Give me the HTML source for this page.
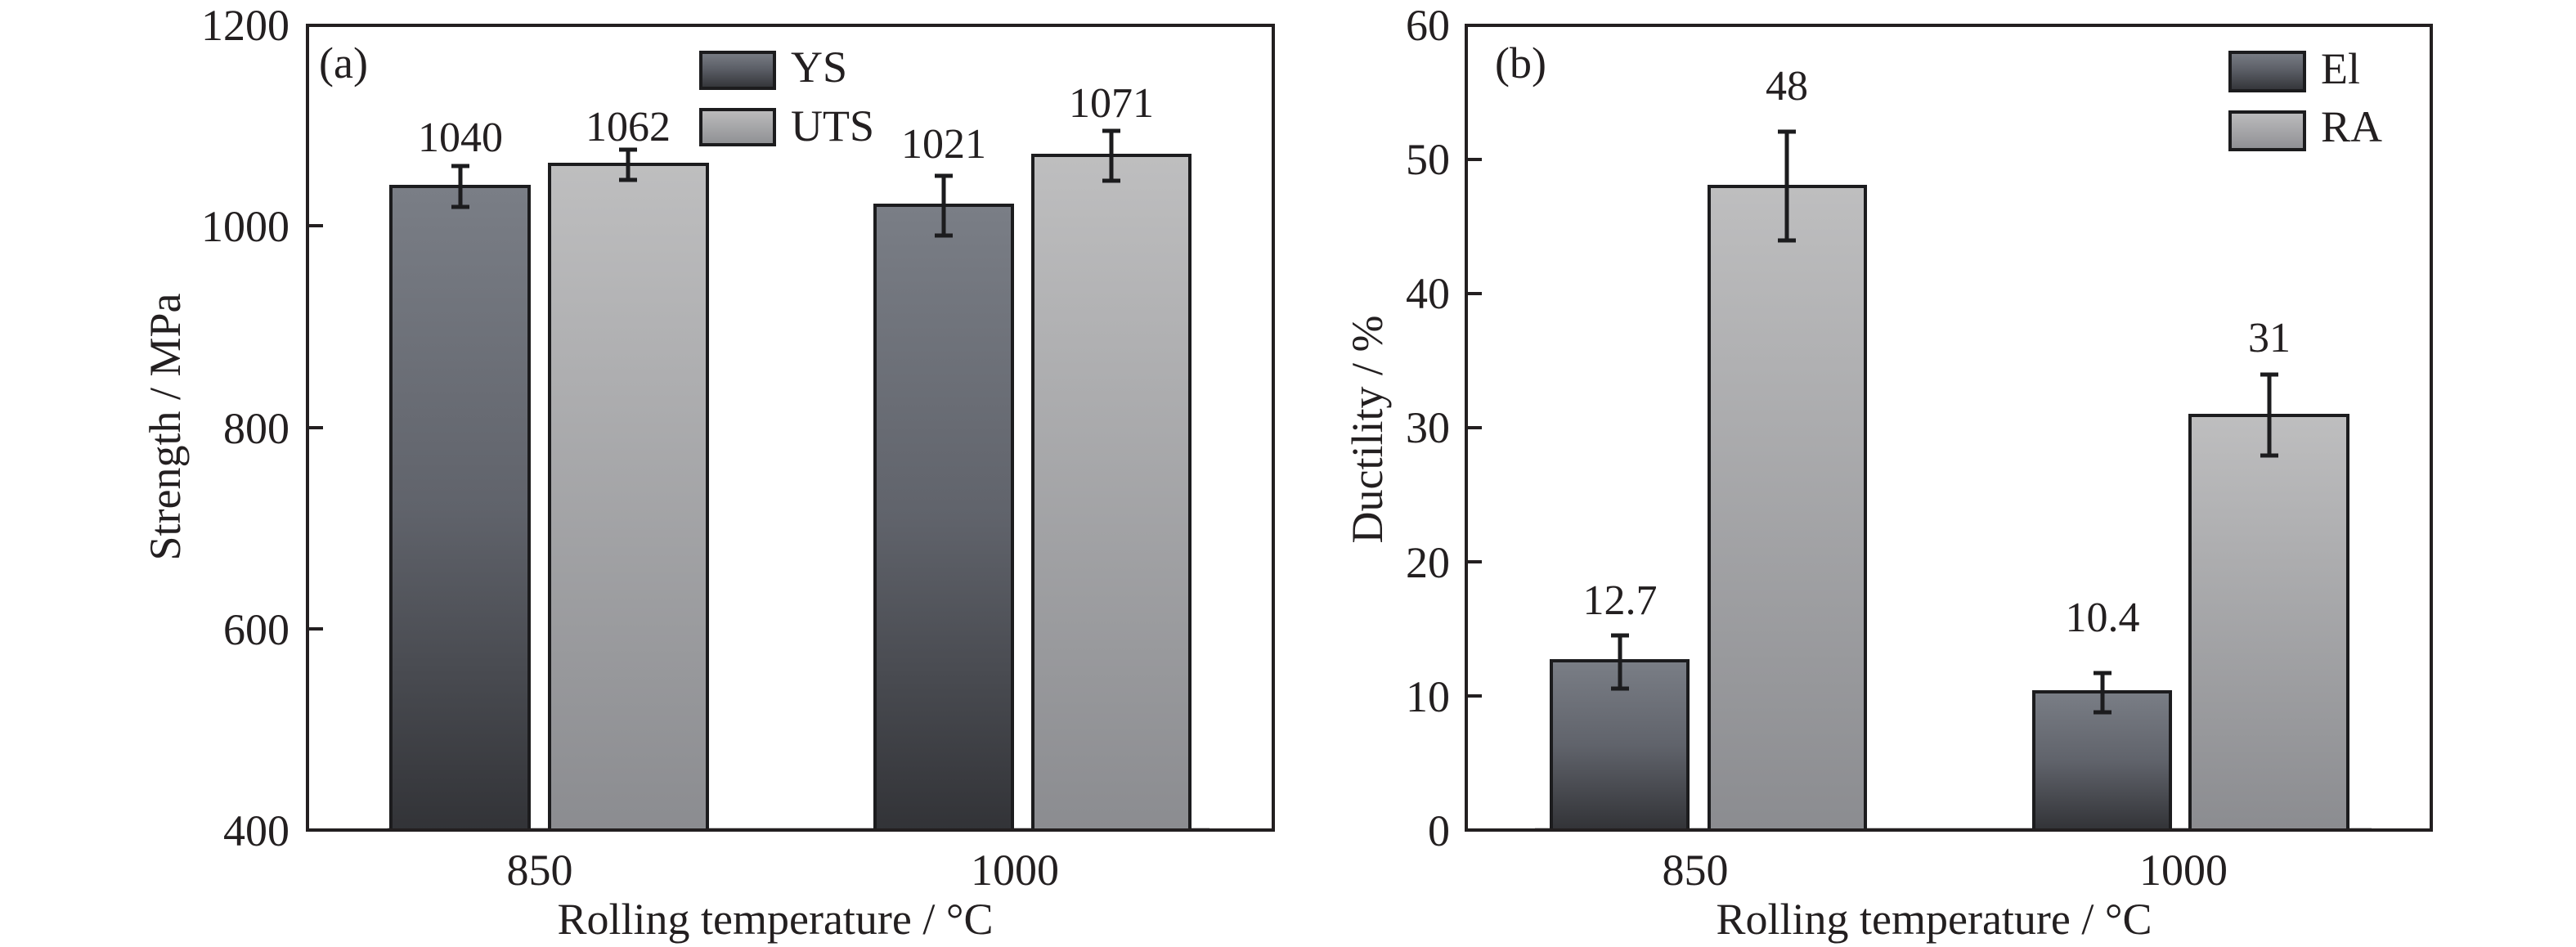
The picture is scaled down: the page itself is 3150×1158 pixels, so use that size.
<!DOCTYPE html>
<html><head><meta charset="utf-8"><style>
html,body{margin:0;padding:0;background:#fff;}
svg{display:block;}
text{font-family:"Liberation Serif",serif;fill:#231f20;}
</style></head><body>
<svg width="3150" height="1158" viewBox="0 0 3150 1158" xmlns="http://www.w3.org/2000/svg">
<defs>
<linearGradient id="dk" x1="0" y1="0" x2="0" y2="1">
<stop offset="0" stop-color="#7a7e86"/><stop offset="0.5" stop-color="#60636b"/><stop offset="1" stop-color="#323337"/>
</linearGradient>
<linearGradient id="lt" x1="0" y1="0" x2="0" y2="1">
<stop offset="0" stop-color="#bebebf"/><stop offset="1" stop-color="#8b8c90"/>
</linearGradient>
<linearGradient id="dkb" x1="0" y1="0" x2="0" y2="1">
<stop offset="0" stop-color="#7a7e86"/><stop offset="0.45" stop-color="#5c5f67"/><stop offset="1" stop-color="#323337"/>
</linearGradient>
<linearGradient id="ltl" x1="0" y1="0" x2="0" y2="1">
<stop offset="0" stop-color="#bdbdbe"/><stop offset="1" stop-color="#8e8f93"/>
</linearGradient>
</defs>

<!-- Panel a -->
<g stroke="#1c1c1e" stroke-width="4">
<line x1="474" y1="1014" x2="1479" y2="1014" stroke="#888" stroke-width="3"/>
<rect x="478" y="228" width="169" height="787" fill="url(#dk)"/>
<rect x="672" y="201" width="193" height="814" fill="url(#lt)"/>
<rect x="1070" y="251" width="168" height="764" fill="url(#dk)"/>
<rect x="1263" y="190" width="192" height="825" fill="url(#lt)"/>
</g>
<g stroke="#1c1c1e" stroke-width="5">
<path d="M563 203V253M552 203h22M552 253h22"/>
<path d="M768 183V220M757 183h22M757 220h22"/>
<path d="M1154 215V288M1143 215h22M1143 288h22"/>
<path d="M1359 160V221M1348 160h22M1348 221h22"/>
</g>
<rect x="376" y="31" width="1181" height="984" fill="none" stroke="#231f20" stroke-width="4"/>
<g stroke="#231f20" stroke-width="4">
<line x1="376" y1="276" x2="395" y2="276"/><line x1="376" y1="523" x2="395" y2="523"/><line x1="376" y1="769" x2="395" y2="769"/>
</g>
<g font-size="54" text-anchor="end">
<text x="354" y="49">1200</text><text x="354" y="295">1000</text><text x="354" y="542">800</text><text x="354" y="788">600</text><text x="354" y="1034">400</text>
</g>
<text x="390" y="95" font-size="54">(a)</text>
<rect x="857" y="64" width="90" height="44" fill="url(#dkb)" stroke="#1c1c1e" stroke-width="4"/>
<rect x="857" y="134" width="90" height="43" fill="url(#ltl)" stroke="#1c1c1e" stroke-width="4"/>
<text x="967" y="100" font-size="54">YS</text>
<text x="967" y="172" font-size="54">UTS</text>
<g font-size="52" text-anchor="middle">
<text x="563" y="185">1040</text><text x="768" y="172">1062</text><text x="1154" y="193">1021</text><text x="1359" y="143">1071</text>
</g>
<g font-size="54" text-anchor="middle">
<text x="660" y="1082">850</text><text x="1241" y="1082">1000</text>
<text x="948" y="1142">Rolling temperature / °C</text>
<text transform="translate(220,522) rotate(-90)">Strength / MPa</text>
</g>

<!-- Panel b -->
<g stroke="#1c1c1e" stroke-width="4">
<line x1="1877" y1="1014" x2="2900" y2="1014" stroke="#888" stroke-width="3"/>
<rect x="1897" y="808" width="167" height="207" fill="url(#dk)"/>
<rect x="2090" y="228" width="191" height="787" fill="url(#lt)"/>
<rect x="2487" y="846" width="167" height="169" fill="url(#dk)"/>
<rect x="2678" y="508" width="193" height="507" fill="url(#lt)"/>
</g>
<g stroke="#1c1c1e" stroke-width="5">
<path d="M1981 777V842M1970 777h22M1970 842h22"/>
<path d="M2185 161V294M2174 161h22M2174 294h22"/>
<path d="M2571 823V871M2560 823h22M2560 871h22"/>
<path d="M2775 458V557M2764 458h22M2764 557h22"/>
</g>
<rect x="1793" y="31" width="1180" height="984" fill="none" stroke="#231f20" stroke-width="4"/>
<g stroke="#231f20" stroke-width="4">
<line x1="1793" y1="851" x2="1812" y2="851"/><line x1="1793" y1="687" x2="1812" y2="687"/><line x1="1793" y1="523" x2="1812" y2="523"/><line x1="1793" y1="359" x2="1812" y2="359"/><line x1="1793" y1="195" x2="1812" y2="195"/>
</g>
<g font-size="54" text-anchor="end">
<text x="1773" y="49">60</text><text x="1773" y="213">50</text><text x="1773" y="377">40</text><text x="1773" y="541">30</text><text x="1773" y="706">20</text><text x="1773" y="870">10</text><text x="1773" y="1034">0</text>
</g>
<text x="1828" y="95" font-size="54">(b)</text>
<rect x="2727" y="64" width="91" height="47" fill="url(#dkb)" stroke="#1c1c1e" stroke-width="4"/>
<rect x="2727" y="137" width="91" height="46" fill="url(#ltl)" stroke="#1c1c1e" stroke-width="4"/>
<text x="2838" y="102" font-size="54">El</text>
<text x="2838" y="173" font-size="54">RA</text>
<g font-size="52" text-anchor="middle">
<text x="1981" y="751">12.7</text><text x="2185" y="122">48</text><text x="2571" y="772">10.4</text><text x="2775" y="430">31</text>
</g>
<g font-size="54" text-anchor="middle">
<text x="2073" y="1082">850</text><text x="2670" y="1082">1000</text>
<text x="2365" y="1142">Rolling temperature / °C</text>
<text transform="translate(1690,525) rotate(-90)">Ductility / %</text>
</g>
</svg>
</body></html>
